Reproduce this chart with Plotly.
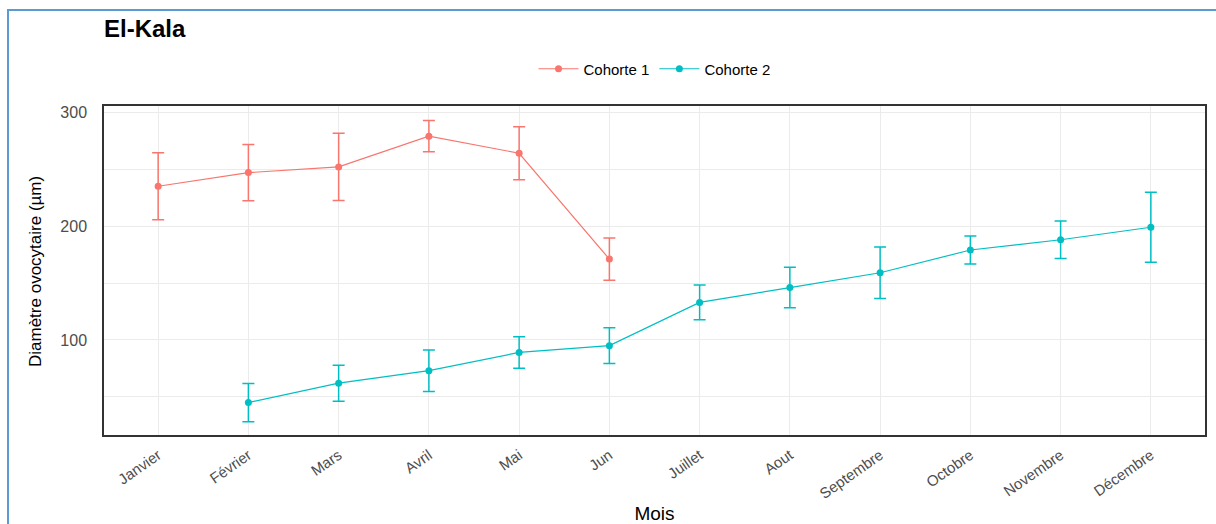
import plotly.graph_objects as go

# Monthly mean oocyte diameter (µm) with standard deviation, El-Kala site
mois = ["Janvier", "Février", "Mars", "Avril", "Mai", "Jun", "Juillet",
        "Aout", "Septembre", "Octobre", "Novembre", "Décembre"]

mois_c1 = ["Janvier", "Février", "Mars", "Avril", "Mai", "Jun"]
moy_c1 = [235, 247, 252, 279, 264, 171]
et_c1 = [29.5, 24.7, 29.5, 13.7, 23.3, 18.5]

mois_c2 = ["Février", "Mars", "Avril", "Mai", "Jun", "Juillet",
           "Aout", "Septembre", "Octobre", "Novembre", "Décembre"]
moy_c2 = [45, 62, 73, 89, 95, 133, 146, 159, 179, 188, 199]
et_c2 = [16.8, 15.8, 18.2, 13.8, 15.7, 15.3, 17.8, 22.6, 12.3, 16.4, 30.7]

ROUGE = "#F8766D"
CYAN = "#00BFC4"
GRILLE = "#EBEBEB"

W, H = 1216, 524
L, R, T, B = 104, 11, 106, 89
PW, PH = W - L - R, H - T - B


def serie(nom, x, y, et, couleur):
    return go.Scatter(
        x=x, y=y, name=nom, mode="lines+markers",
        line=dict(color=couleur, width=1.2),
        marker=dict(color=couleur, size=7),
        error_y=dict(type="data", array=et, visible=True,
                     color=couleur, thickness=1.5, width=6),
    )


fig = go.Figure()
fig.add_trace(serie("Cohorte 1", mois_c1, moy_c1, et_c1, ROUGE))
fig.add_trace(serie("Cohorte 2", mois_c2, moy_c2, et_c2, CYAN))

fig.update_layout(
    width=W, height=H,
    margin=dict(l=L, r=R, t=T, b=B, autoexpand=False),
    paper_bgcolor="white", plot_bgcolor="white",
    font=dict(family="Liberation Sans, Arial, sans-serif", color="#000000"),
    title=dict(text="<b>El-Kala</b>", x=104 / W, xanchor="left",
               y=1 - 29 / H, yanchor="middle",
               font=dict(size=24, color="#000000")),
    showlegend=True,
    legend=dict(orientation="h", x=0.5, xanchor="center",
                y=(H - B - 69) / PH, yanchor="middle",
                font=dict(size=15, color="#000000"),
                itemwidth=40, tracegroupgap=0, bgcolor="rgba(0,0,0,0)"),
    shapes=[dict(type="rect", xref="paper", yref="paper",
                 x0=-(L - 8) / PW, x1=(PW + R + 20) / PW,
                 y0=-(B + 50) / PH, y1=(H - B - 10) / PH,
                 line=dict(color="#5B9BD5", width=2), layer="below")],
    annotations=[dict(text="Diamètre ovocytaire (µm)", textangle=-90,
                      xref="paper", yref="paper",
                      x=(35 - L) / PW, y=(H - B - 272) / PH,
                      xanchor="center", yanchor="middle", showarrow=False,
                      font=dict(size=17, color="#000000"))],
)

fig.update_xaxes(
    categoryorder="array", categoryarray=mois,
    range=[-0.6, 11.6], automargin=False,
    showgrid=True, gridcolor=GRILLE, gridwidth=1.2,
    showline=True, linecolor="#333333", linewidth=1.5, mirror=True,
    ticks="", tickangle=-35, ticklabelstandoff=4,
    tickfont=dict(size=15, color="#4D4D4D"),
    title=dict(text="Mois", font=dict(size=19, color="#000000"), standoff=6),
    zeroline=False,
)

fig.update_yaxes(
    range=[16.5, 305.5], tick0=0, dtick=100, automargin=False,
    showgrid=True, gridcolor=GRILLE, gridwidth=1.2,
    minor=dict(tick0=0, dtick=50, showgrid=True, gridcolor=GRILLE, gridwidth=1),
    showline=True, linecolor="#333333", linewidth=1.5, mirror=True,
    ticks="", ticklabelstandoff=12,
    tickfont=dict(size=16, color="#4D4D4D"),
    zeroline=False,
)

fig.write_html("out.html")
